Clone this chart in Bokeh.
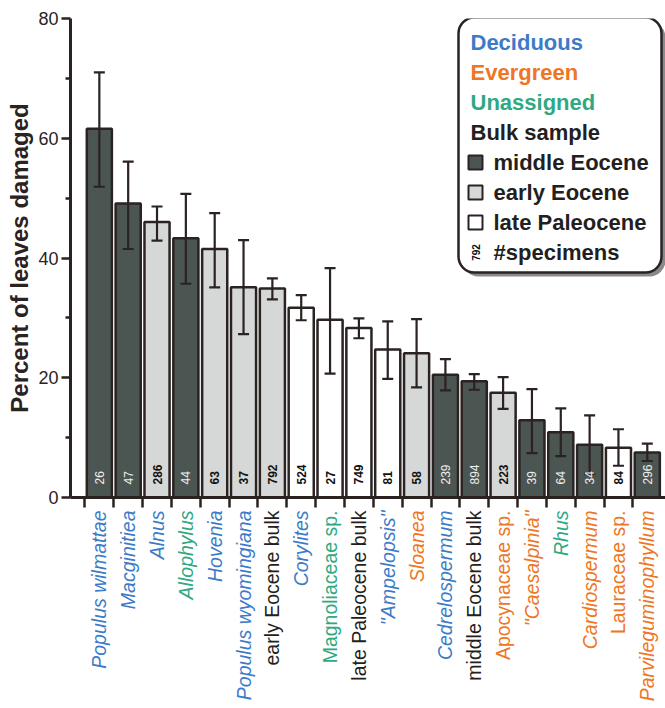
import math
from bokeh.plotting import figure
from bokeh.layouts import column
from bokeh.models import (ColumnDataSource, Range1d, FixedTicker, Whisker, TeeHead,
                          LabelSet, Label, BoxAnnotation)
from bokeh.core.properties import value
from bokeh.embed import file_html
from bokeh.resources import INLINE

# ---------------- data ----------------
taxa = ["Populus wilmattae", "Macginitiea", "Alnus", "Allophylus", "Hovenia",
        "Populus wyomingiana", "early Eocene bulk", "Corylites", "Magnoliaceae sp.",
        "late Paleocene bulk", "\"Ampelopsis\"", "Sloanea", "Cedrelospermum",
        "middle Eocene bulk", "Apocynaceae sp.", "\"Caesalpinia\"", "Rhus",
        "Cardiospermum", "Lauraceae sp.", "Parvileguminophyllum"]
percent = [61.6, 49.1, 46.0, 43.3, 41.5, 35.1, 34.9, 31.7, 29.7, 28.3,
           24.7, 24.1, 20.5, 19.4, 17.5, 12.9, 10.9, 8.8, 8.3, 7.5]
err_low = [51.9, 41.5, 42.9, 35.7, 35.1, 27.3, 33.1, 29.6, 20.7, 26.6,
           19.8, 18.4, 17.9, 18.0, 14.8, 7.4, 6.9, 4.0, 5.3, 6.1]
err_high = [71.0, 56.1, 48.6, 50.7, 47.5, 43.0, 36.6, 33.8, 38.3, 29.9,
            29.4, 29.8, 23.1, 20.6, 20.1, 18.1, 14.9, 13.7, 11.4, 9.0]
specimens = [26, 47, 286, 44, 63, 37, 792, 524, 27, 749,
             81, 58, 239, 894, 223, 39, 64, 34, 84, 296]
epoch = ["middle", "middle", "early", "middle", "early", "early", "early", "late", "late", "late",
         "late", "early", "middle", "middle", "early", "middle", "middle", "middle", "late", "middle"]
leaf_type = ["Deciduous", "Deciduous", "Deciduous", "Unassigned", "Deciduous", "Deciduous", "Bulk",
             "Deciduous", "Unassigned", "Bulk", "Deciduous", "Evergreen", "Deciduous", "Bulk",
             "Evergreen", "Evergreen", "Unassigned", "Evergreen", "Evergreen", "Evergreen"]
upright = ["early Eocene bulk", "late Paleocene bulk", "middle Eocene bulk",
           "Magnoliaceae sp.", "Apocynaceae sp.", "Lauraceae sp."]
y_ticks = [0, 20, 40, 60, 80]
y_minor = [10, 30, 50, 70]

# ---------------- styles ----------------
FONT = "Liberation Sans"
INK = "#2b2222"
epoch_fill = {"middle": "#4b5552", "early": "#d6d8d8", "late": "#ffffff"}
type_color = {"Deciduous": "#3c7bc8", "Evergreen": "#ee7624", "Unassigned": "#2fa982", "Bulk": "#231f20"}

W, H = 665, 708
L, R, T = 70, 0, 18
FH = 479
B = 12
H_MAIN = T + FH + B
H_LAB = H - H_MAIN
FW = W - L - R
PITCH = 28.84
X_END = FW / PITCH
Y_END = 80


def xd(px):
    return (px - L) / FW * X_END


def yd(py):
    return (T + FH - py) / FH * Y_END


n = len(taxa)
xc = [i + 1 for i in range(n)]
src = ColumnDataSource(dict(
    x=xc, top=percent, lower=err_low, upper=err_high,
    fill=[epoch_fill[e] for e in epoch],
    cnt=[str(s) for s in specimens],
    cnt_color=["#eeeeee" if e == "middle" else "#111111" for e in epoch],
    cnt_style=["normal" if e == "middle" else "bold" for e in epoch],
    cnt_y=[13 / FH * Y_END] * n,
))

xr = Range1d(0, X_END)
p = figure(width=W, height=H_MAIN, output_backend="svg", toolbar_location=None,
           x_range=xr, y_range=Range1d(0, Y_END),
           min_border_left=L, min_border_right=R, min_border_top=T, min_border_bottom=B)
p.outline_line_color = None
p.xgrid.visible = False
p.ygrid.visible = False
p.background_fill_color = "white"
p.border_fill_color = "white"

p.vbar(x="x", top="top", width=0.87, bottom=0, source=src, fill_color="fill",
       line_color=INK, line_width=2.5)

wh = Whisker(source=src, base="x", upper="upper", lower="lower", line_color=INK, line_width=2.2,
             level="annotation",
             upper_head=TeeHead(size=11, line_color=INK, line_width=2.2),
             lower_head=TeeHead(size=11, line_color=INK, line_width=2.2))
p.add_layout(wh)

p.add_layout(LabelSet(source=src, x="x", y="cnt_y", text="cnt", angle=math.pi / 2,
                      text_align="left", text_baseline="middle", text_font_size="12px",
                      text_font=value(FONT), text_color="cnt_color", text_font_style="cnt_style"))

# axes
ya = p.yaxis[0]
ya.ticker = FixedTicker(ticks=y_ticks, minor_ticks=y_minor)
ya.axis_label = "Percent of leaves damaged"
ya.axis_label_text_font = FONT
ya.axis_label_text_font_style = "bold"
ya.axis_label_text_font_size = "24px"
ya.axis_label_text_color = INK
ya.axis_label_standoff = 2
ya.major_label_text_font = FONT
ya.major_label_text_font_size = "18px"
ya.major_label_text_color = INK
ya.major_label_standoff = 3
ya.major_tick_in = 0
ya.major_tick_out = 9
ya.minor_tick_in = 0
ya.minor_tick_out = 5
ya.axis_line_width = 3
ya.major_tick_line_width = 2.5
ya.minor_tick_line_width = 2.5
ya.axis_line_color = INK
ya.major_tick_line_color = INK
ya.minor_tick_line_color = INK

xa = p.xaxis[0]
xa.ticker = FixedTicker(ticks=[i + 0.5 for i in range(n)], minor_ticks=[])
xa.major_label_text_font_size = "0px"
xa.major_label_text_color = None
xa.major_label_standoff = 0
xa.major_tick_in = 0
xa.major_tick_out = 10
xa.minor_tick_out = 0
xa.axis_line_width = 3
xa.major_tick_line_width = 2.5
xa.axis_line_color = INK
xa.major_tick_line_color = INK

# legend box (rounded, with shadow)
bx_l, bx_r, bx_t, bx_b = 458, 661, 17, 272
p.add_layout(BoxAnnotation(left=xd(bx_l + 4), right=xd(bx_r + 4), top=yd(bx_t + 4), bottom=yd(bx_b + 4),
                           fill_color="#8a8a8a", fill_alpha=1, line_color=None, border_radius=16))
p.add_layout(BoxAnnotation(left=xd(bx_l), right=xd(bx_r), top=yd(bx_t), bottom=yd(bx_b),
                           fill_color="white", fill_alpha=1, line_color=INK, line_width=2.5,
                           line_alpha=1, border_radius=16))

legend_text = [("Deciduous", type_color["Deciduous"], None),
               ("Evergreen", type_color["Evergreen"], None),
               ("Unassigned", type_color["Unassigned"], None),
               ("Bulk sample", type_color["Bulk"], None),
               ("middle Eocene", type_color["Bulk"], epoch_fill["middle"]),
               ("early Eocene", type_color["Bulk"], epoch_fill["early"]),
               ("late Paleocene", type_color["Bulk"], epoch_fill["late"]),
               ("#specimens", type_color["Bulk"], "count")]
for k, (txt, col, sw) in enumerate(legend_text):
    cy = 42 + 30 * k
    tx = 470 if sw is None else 493
    if sw == "count":
        p.add_layout(Label(x=xd(475), y=yd(cy), text="792", angle=math.pi / 2, text_align="center",
                           text_baseline="middle", text_font=FONT, text_font_style="bold",
                           text_font_size="10px", text_color="#111111"))
    elif sw is not None:
        p.add_layout(BoxAnnotation(left=xd(468), right=xd(482), top=yd(cy - 7), bottom=yd(cy + 7),
                                   fill_color=sw, fill_alpha=1, line_color=INK, line_width=2,
                                   line_alpha=1))
    p.add_layout(Label(x=xd(tx), y=yd(cy), text=txt, text_align="left", text_baseline="middle",
                       text_font=FONT, text_font_style="bold", text_font_size="22px",
                       text_color=col))

# ---------------- category labels (separate strip below, same x scale) ----------------
lab_src = ColumnDataSource(dict(
    x=xc, y=[1] * n, lab=taxa,
    color=[type_color[t] for t in leaf_type],
    style=["normal" if t in upright else "italic" for t in taxa],
))
q = figure(width=W, height=H_LAB, output_backend="svg", toolbar_location=None,
           x_range=xr, y_range=Range1d(H_LAB, 0),
           min_border_left=L, min_border_right=R, min_border_top=0, min_border_bottom=0)
q.axis.visible = False
q.grid.visible = False
q.outline_line_color = None
q.background_fill_color = "white"
q.border_fill_color = "white"
q.text(x="x", y="y", text="lab", source=lab_src, angle=math.pi / 2, text_align="right",
       text_baseline="middle", text_font=value(FONT), text_font_size="19.5px",
       text_color="color", text_font_style="style")

layout = column(p, q, spacing=0)
open("out.html", "w").write(file_html(layout, INLINE))
